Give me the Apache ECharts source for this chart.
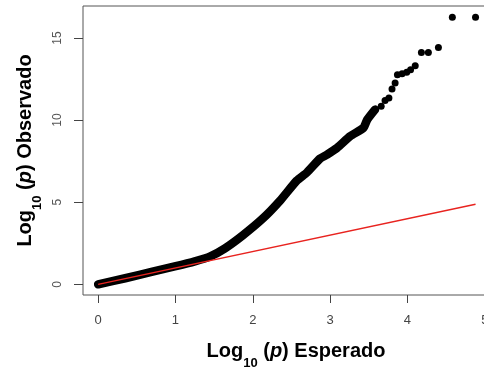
<!DOCTYPE html>
<html>
<head>
<meta charset="utf-8">
<script src="https://cdn.jsdelivr.net/npm/echarts@6/dist/echarts.min.js"></script>
<style>
  html, body { margin: 0; padding: 0; background: #fff; }
  #chart { width: 484px; height: 369px; }
</style>
</head>
<body>
<div id="chart"></div>
<script>
// Tick positions on both axes
const xTicks = [0, 1, 2, 3, 4, 5];
const yTicks = [0, 5, 10, 15];

// Dense body of the Q-Q curve: expected vs observed -log10(p)
const denseExpected = [0, 0.35, 0.69, 0.99, 1.25, 1.45, 1.64, 1.87, 2.13, 2.35, 2.57, 2.70, 2.87, 2.96, 3.09, 3.26, 3.43, 3.48, 3.58];
const denseObserved = [0, 0.37, 0.76, 1.09, 1.40, 1.70, 2.19, 2.98, 4.01, 5.08, 6.32, 6.81, 7.66, 7.90, 8.31, 9.02, 9.53, 10.03, 10.64];

// Sparse upper tail, drawn as individual points
const tailExpected = [3.66, 3.71, 3.76, 3.80, 3.84, 3.87, 3.93, 3.99, 4.04, 4.10, 4.18, 4.27, 4.40, 4.58, 4.88];
const tailObserved = [10.84, 11.20, 11.35, 11.90, 12.26, 12.77, 12.83, 12.91, 13.07, 13.31, 14.12, 14.12, 14.43, 16.27, 16.27];

// Identity line y = x over the expected range
const identityEnds = [0, 4.88];

const font = 'Liberation Sans, Arial, Helvetica, sans-serif';

const pairs = (xs, ys) => xs.map((x, i) => [x, ys[i]]);

const titleRich = {
  a: { fontFamily: font, fontSize: 20, fontWeight: 'bold', color: '#000', lineHeight: 20, verticalAlign: 'top' },
  i: { fontFamily: font, fontSize: 20, fontWeight: 'bold', fontStyle: 'italic', color: '#000', lineHeight: 20, verticalAlign: 'top' },
  s: { fontFamily: font, fontSize: 13, fontWeight: 'bold', color: '#000', lineHeight: 20, verticalAlign: 'top', padding: [16, 0, 0, 0] }
};

const chart = echarts.init(document.getElementById('chart'), null, { renderer: 'canvas' });

chart.setOption({
  animation: false,
  backgroundColor: '#fff',
  grid: {
    left: 83, top: 6, width: 408, height: 289,
    containLabel: false,
    outerBoundsMode: 'none',
    show: true, borderColor: '#555', borderWidth: 1, backgroundColor: 'transparent'
  },
  xAxis: {
    type: 'value',
    min: -0.196, max: 5.08,
    axisLine: { show: false, onZero: false },
    splitLine: { show: false },
    axisTick: { show: true, inside: false, length: 8, customValues: xTicks, lineStyle: { color: '#444', width: 1 } },
    axisLabel: { customValues: xTicks, margin: 19, fontFamily: font, fontSize: 13, color: '#444' },
    name: '{a|Log}{s|10}{a| (}{i|p}{a|) Esperado}',
    nameLocation: 'middle',
    nameGap: 46,
    nameTextStyle: { rich: titleRich, padding: [0, 0, 0, 18] }
  },
  yAxis: {
    type: 'value',
    min: -0.65, max: 16.95,
    axisLine: { show: false, onZero: false },
    splitLine: { show: false },
    axisTick: { show: true, inside: false, length: 9, customValues: yTicks, lineStyle: { color: '#444', width: 1 } },
    axisLabel: { customValues: yTicks, rotate: 90, margin: 19, fontFamily: font, fontSize: 12, color: '#555' },
    name: '{a|Log}{s|10}{a| (}{i|p}{a|) Observado}',
    nameLocation: 'middle',
    nameRotate: 90,
    nameGap: 48,
    nameTextStyle: { rich: titleRich }
  },
  series: [
    {
      type: 'line',
      data: pairs(denseExpected, denseObserved),
      smooth: 0.2,
      showSymbol: false,
      symbol: 'none',
      lineStyle: { color: '#000', width: 8.5, cap: 'round', join: 'round', opacity: 1 },
      z: 2
    },
    {
      type: 'scatter',
      data: pairs(tailExpected, tailObserved),
      symbol: 'circle',
      symbolSize: 7,
      itemStyle: { color: '#000', opacity: 1 },
      z: 2
    },
    {
      type: 'line',
      data: identityEnds.map(v => [v, v]),
      showSymbol: false,
      symbol: 'none',
      lineStyle: { color: '#e8231f', width: 1.4 },
      z: 3
    }
  ]
});
</script>
</body>
</html>
